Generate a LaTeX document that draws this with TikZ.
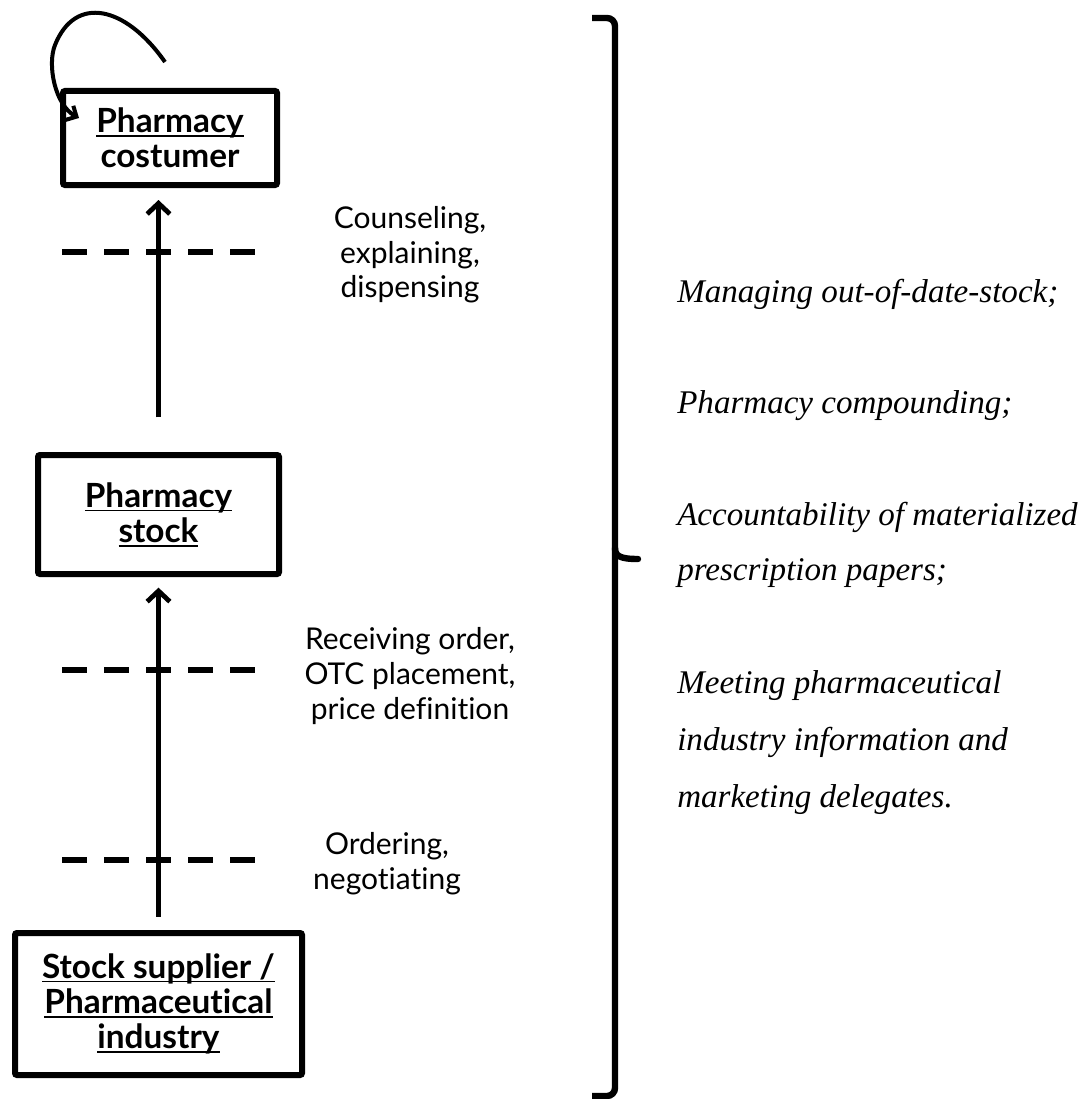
\documentclass[tikz,border=0pt]{standalone}
\usepackage{fontspec}
\setmainfont{Lato}[Ligatures=NoCommon]
\newfontfamily\notefont{Liberation Serif}
\usetikzlibrary{arrows.meta,calc}

% underline that sits just under the baseline
\newsavebox{\ulinebox}
\newcommand{\uln}[1]{\sbox{\ulinebox}{#1}\rlap{\rule[-3pt]{\wd\ulinebox}{1.2pt}}\usebox{\ulinebox}}

\tikzset{
  box/.style={draw, line width=4.5pt, rounded corners=1.5pt, inner sep=0pt,
    align=center, font=\bfseries\fontsize{25}{26.5}\selectfont},
  flow/.style={line width=3.6pt, -{Straight Barb[length=8pt,width=17pt]}},
  cut/.style={line width=5pt, dash pattern=on 18.75pt off 12.75pt},
  duty/.style={align=center, font=\fontsize{22.5}{26}\selectfont},
  task/.style={anchor=base west, inner sep=0pt, font=\notefont\itshape\fontsize{24.8}{28}\selectfont},
}

\begin{document}
\begin{tikzpicture}[x=0.75pt, y=-0.75pt]
    \useasboundingbox (0,0) rectangle (1090,1099);

    % the three stations of the chain
    \node[box, minimum width=160.5pt, minimum height=70.5pt] (costumer) at (170,138)
        {\uln{Pharmacy}\\costumer};
    \node[box, minimum width=180.75pt, minimum height=89.25pt] (stock) at (158.5,514.5)
        {\uln{Pharmacy}\\\uln{stock}};
    \node[box, minimum width=215.25pt, minimum height=106.5pt] (supplier) at (158.5,1004)
        {\uln{Stock supplier /}\\\uln{Pharmaceutical}\\\uln{industry}};

    % flow upwards
    \draw[flow, shorten <=26pt, shorten >=9pt] (stock.north) -- (stock.north |- costumer.south);
    \draw[flow, shorten <=10pt, shorten >=8pt] (supplier.north) -- (stock.south);

    % self loop on the costumer
    \draw[line width=3pt, -{Straight Barb[length=6pt,width=12pt]}]
        ($(costumer.north)+(-5,-26)$) .. controls (125,5) and (75,-5) .. (55,45)
        .. controls (47,65) and (55,105) .. ($(costumer.west)+(19,-20)$);

    % cut lines and what happens there
    \draw[cut] (62,252) -- (255,252);
    \draw[cut] (62,670) -- (255,670);
    \draw[cut] (62,860) -- (255,860);
    \node[duty] (counsel) at (410,255) {Counseling,\\explaining,\\dispensing};
    \node[duty] (receive) at (410,676) {Receiving order,\\OTC placement,\\price definition};
    \node[duty] (order) at (387,864) {Ordering,\\negotiating};

    % brace over the whole chain
    \draw[line width=4.8pt, rounded corners=6pt] (592,18) -- (615,18) -- (615,1096) -- (592,1096);
    \draw[line width=4.8pt, line cap=round] (615,548) .. controls (615,556) and (620,559) .. (638,559);

    % other tasks
    \node[task] (t1) at (677,302) {Managing out-of-date-stock;};
    \node[task] (t2) at (677,413) {Pharmacy compounding;};
    \node[task] (t3) at (677,525) {Accountability of materialized};
    \node[task] (t4) at (677,580) {prescription papers;};
    \node[task] (t5) at (677,693) {Meeting pharmaceutical};
    \node[task] (t6) at (677,750) {industry information and};
    \node[task] (t7) at (677,807) {marketing delegates.};
\end{tikzpicture}
\end{document}
